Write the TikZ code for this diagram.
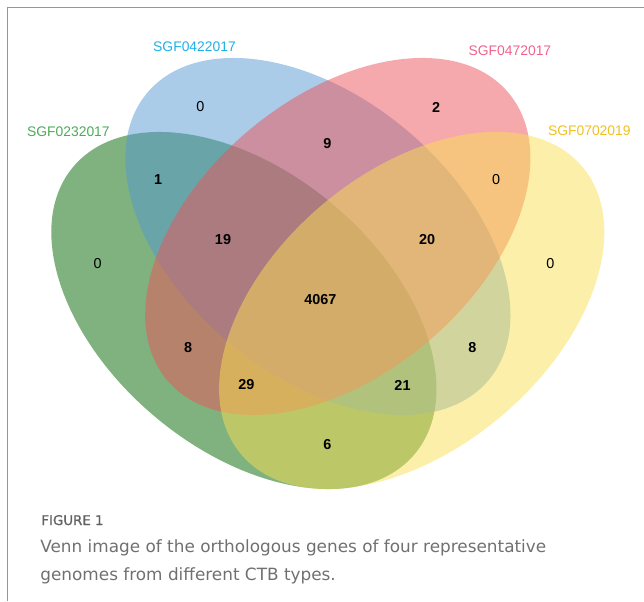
\documentclass[tikz,border=0pt]{standalone}
\usepackage{fontspec}
\setmainfont{Liberation Sans}
\newfontfamily\vennfont{Liberation Sans}
\newfontfamily\capfont{DejaVu Sans}
\newfontfamily\capheadfont[FakeBold=1]{DejaVu Sans}
\usetikzlibrary{positioning}
\definecolor{setgreen}{RGB}{0,101,0}
\definecolor{setblue}{RGB}{85,153,209}
\definecolor{setpink}{RGB}{237,83,89}
\definecolor{setyellow}{RGB}{249,223,83}
\definecolor{labgreen}{RGB}{76,170,88}
\definecolor{labblue}{RGB}{30,176,232}
\definecolor{labpink}{RGB}{240,98,140}
\definecolor{labyellow}{RGB}{240,192,30}
\definecolor{framegray}{RGB}{150,150,150}
\definecolor{capgray}{RGB}{112,112,112}
\tikzset{
  venn/.style={fill opacity=0.5},
  count/.style={inner sep=0pt,font=\vennfont\fontsize{8.2}{10}\selectfont\bfseries},
  zero/.style={inner sep=0pt,font=\vennfont\fontsize{8.2}{10}\selectfont},
  setname/.style={inner sep=0pt,font=\vennfont\fontsize{7.9}{10}\selectfont},
  captext/.style={inner sep=0pt,anchor=base west,text=capgray,font=\capfont\fontsize{9.6}{11}\selectfont}
}

\begin{document}
\begin{tikzpicture}[x=0.02cm,y=-0.02cm]
  \useasboundingbox (0,0) rectangle (644,601);
  \draw[framegray,line width=0.85pt] (7.5,601) -- (7.5,7.5) -- (644,7.5);

  \fill[setgreen,venn,rotate around={-40.1:(243.9,310.5)}] (243.9,310.5) ellipse [x radius=223.1,y radius=138.5];
  \fill[setblue,venn,rotate around={-40.1:(317.9,236.5)}] (317.9,236.5) ellipse [x radius=223.1,y radius=138.5];
  \fill[setpink,venn,rotate around={40.1:(337.8,236.5)}] (337.8,236.5) ellipse [x radius=223.1,y radius=138.5];
  \fill[setyellow,venn,rotate around={40.1:(411.7,310.5)}] (411.7,310.5) ellipse [x radius=223.1,y radius=138.5];

  \node[setname,text=labgreen] (nameA) at (68.4,132) {SGF0232017};
  \node[setname,text=labblue] (nameB) at (194.5,47) {SGF0422017};
  \node[setname,text=labpink] (nameC) at (509.9,51) {SGF0472017};
  \node[setname,text=labyellow] (nameD) at (589.3,131) {SGF0702019};

  \node[zero] (onlyB) at (200.4,107) {0};
  \node[count] (onlyC) at (436.1,107) {2};
  \node[count] (BC) at (327.3,144) {9};
  \node[count] (AB) at (158.1,180) {1};
  \node[zero] (CD) at (496.1,180) {0};
  \node[count] (ABC) at (223,240) {19};
  \node[count] (BCD) at (427.1,240) {20};
  \node[zero] (onlyA) at (97.7,264) {0};
  \node[zero] (onlyD) at (550.3,264) {0};
  \node[count] (ABCD) at (320.3,300) {4067};
  \node[count] (AC) at (188.1,348) {8};
  \node[count] (BD) at (472.3,348) {8};
  \node[count] (ACD) at (246.4,385) {29};
  \node[count] (ABD) at (402.5,385) {21};
  \node[count] (AD) at (327.3,445) {6};

  \node[captext,text=black!62,font=\capheadfont\fontsize{7.6}{9}\selectfont] (fighead) at (41,525) {FIGURE 1};
  \node[captext] (capone) at (40,552) {Venn image of the orthologous genes of four representative};
  \node[captext] (captwo) at (40,580) {genomes from different CTB types.};
\end{tikzpicture}
\end{document}
